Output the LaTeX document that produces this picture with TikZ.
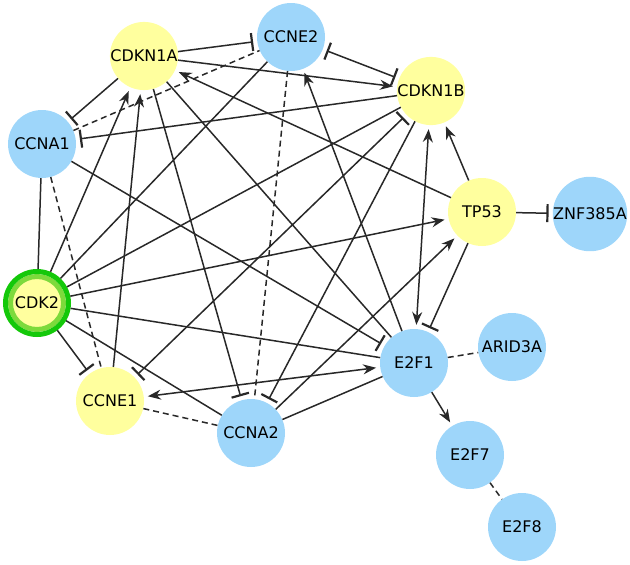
\documentclass[tikz,border=0pt]{standalone}
\usepackage{fontspec}
\setmainfont{DejaVu Sans}
\definecolor{geneblue}{RGB}{158, 214, 250}
\definecolor{geneyellow}{RGB}{255, 255, 158}
\definecolor{ringdark}{RGB}{20, 200, 10}
\definecolor{ringlight}{RGB}{125, 218, 60}
\definecolor{edgegray}{RGB}{40, 40, 40}
\usepackage{tikz}
\usetikzlibrary{arrows.meta, positioning}

\begin{document}
\begin{tikzpicture}[x=1pt, y=-1pt,
    gene/.style={circle, minimum size=68pt, inner sep=0pt, font=\fontsize{16}{19}\selectfont},
    yel/.style={gene, fill=geneyellow},
    blu/.style={gene, fill=geneblue},
    link/.style={draw=edgegray, line width=1.5pt},
    act/.style={link, -{Stealth[length=13pt, width=10pt]}, shorten >=4pt},
    actboth/.style={link, {Stealth[length=13pt, width=10pt]}-{Stealth[length=13pt, width=10pt]}, shorten >=4pt, shorten <=4pt},
    inh/.style={link, -{Bar[width=18pt, line width=2.2pt]}, shorten >=4pt},
    inhboth/.style={link, {Bar[width=18pt, line width=2.2pt]}-{Bar[width=18pt, line width=2.2pt]}, shorten >=4pt, shorten <=4pt},
    assoc/.style={link, dash pattern=on 6pt off 4pt}]
  \useasboundingbox (0,0) rectangle (630,565);

  % Genes
  \node[yel] (CDKN1A) at (144, 56) {CDKN1A};
  \node[blu] (CCNE2) at (291, 37) {CCNE2};
  \node[yel] (CDKN1B) at (431, 91) {CDKN1B};
  \node[blu] (CCNA1) at (42, 144) {CCNA1};
  \node[yel] (TP53) at (482, 212) {TP53};
  \node[blu] (ZNF385A) at (590, 214) {ZNF385A};
  \node[yel] (CCNE1) at (110, 401) {CCNE1};
  \node[blu] (CCNA2) at (251, 433) {CCNA2};
  \node[blu] (E2F1) at (414, 363) {E2F1};
  \node[blu] (ARID3A) at (512, 347) {ARID3A};
  \node[blu] (E2F7) at (470, 455) {E2F7};
  \node[blu] (E2F8) at (522, 527) {E2F8};

  % Query gene with its rings
  \node[gene, fill=geneyellow, draw=ringlight, line width=5pt, minimum size=53pt, outer sep=7.5pt] (CDK2) at (37, 303) {CDK2};
  \draw[ringdark, line width=5pt] (CDK2.center) circle (31.5pt);

  % Interactions
  \draw[inh] (CDKN1A) -- (CCNE2);
  \draw[assoc] (CCNA1) -- (CCNE2);
  \draw[inh] (CDKN1A) -- (CCNA1);
  \draw[inh] (CDKN1B) -- (CCNA1);
  \draw[act] (CDKN1A) -- (CDKN1B);
  \draw[inhboth] (CCNE2) -- (CDKN1B);
  \draw[link] (CCNA1) -- (CDK2);
  \draw[assoc] (CCNA1) -- (CCNE1);
  \draw[inh] (CCNA1) -- (E2F1);
  \draw[act] (CDK2) -- (CDKN1A);
  \draw[link] (CDK2) -- (CCNE2);
  \draw[link] (CDK2) -- (CDKN1B);
  \draw[act] (CDK2) -- (TP53);
  \draw[link] (CDK2) -- (E2F1);
  \draw[link] (CDK2) -- (CCNA2);
  \draw[inh] (CDK2) -- (CCNE1);
  \draw[act] (CCNE1) -- (CDKN1A);
  \draw[inhboth] (CDKN1B) -- (CCNE1);
  \draw[inh] (CDKN1A) -- (CCNA2);
  \draw[inh] (CDKN1B) -- (CCNA2);
  \draw[assoc] (CCNE2) -- (CCNA2);
  \draw[link] (CDKN1A) -- (E2F1);
  \draw[act] (E2F1) -- (CCNE2);
  \draw[actboth] (CDKN1B) -- (E2F1);
  \draw[act] (TP53) -- (CDKN1B);
  \draw[act] (TP53) -- (CDKN1A);
  \draw[inh] (TP53) -- (E2F1);
  \draw[inh] (TP53) -- (ZNF385A);
  \draw[act] (CCNA2) -- (TP53);
  \draw[actboth] (CCNE1) -- (E2F1);
  \draw[link] (CCNA2) -- (E2F1);
  \draw[assoc] (CCNE1) -- (CCNA2);
  \draw[assoc] (E2F1) -- (ARID3A);
  \draw[act] (E2F1) -- (E2F7);
  \draw[assoc] (E2F7) -- (E2F8);
\end{tikzpicture}
\end{document}
